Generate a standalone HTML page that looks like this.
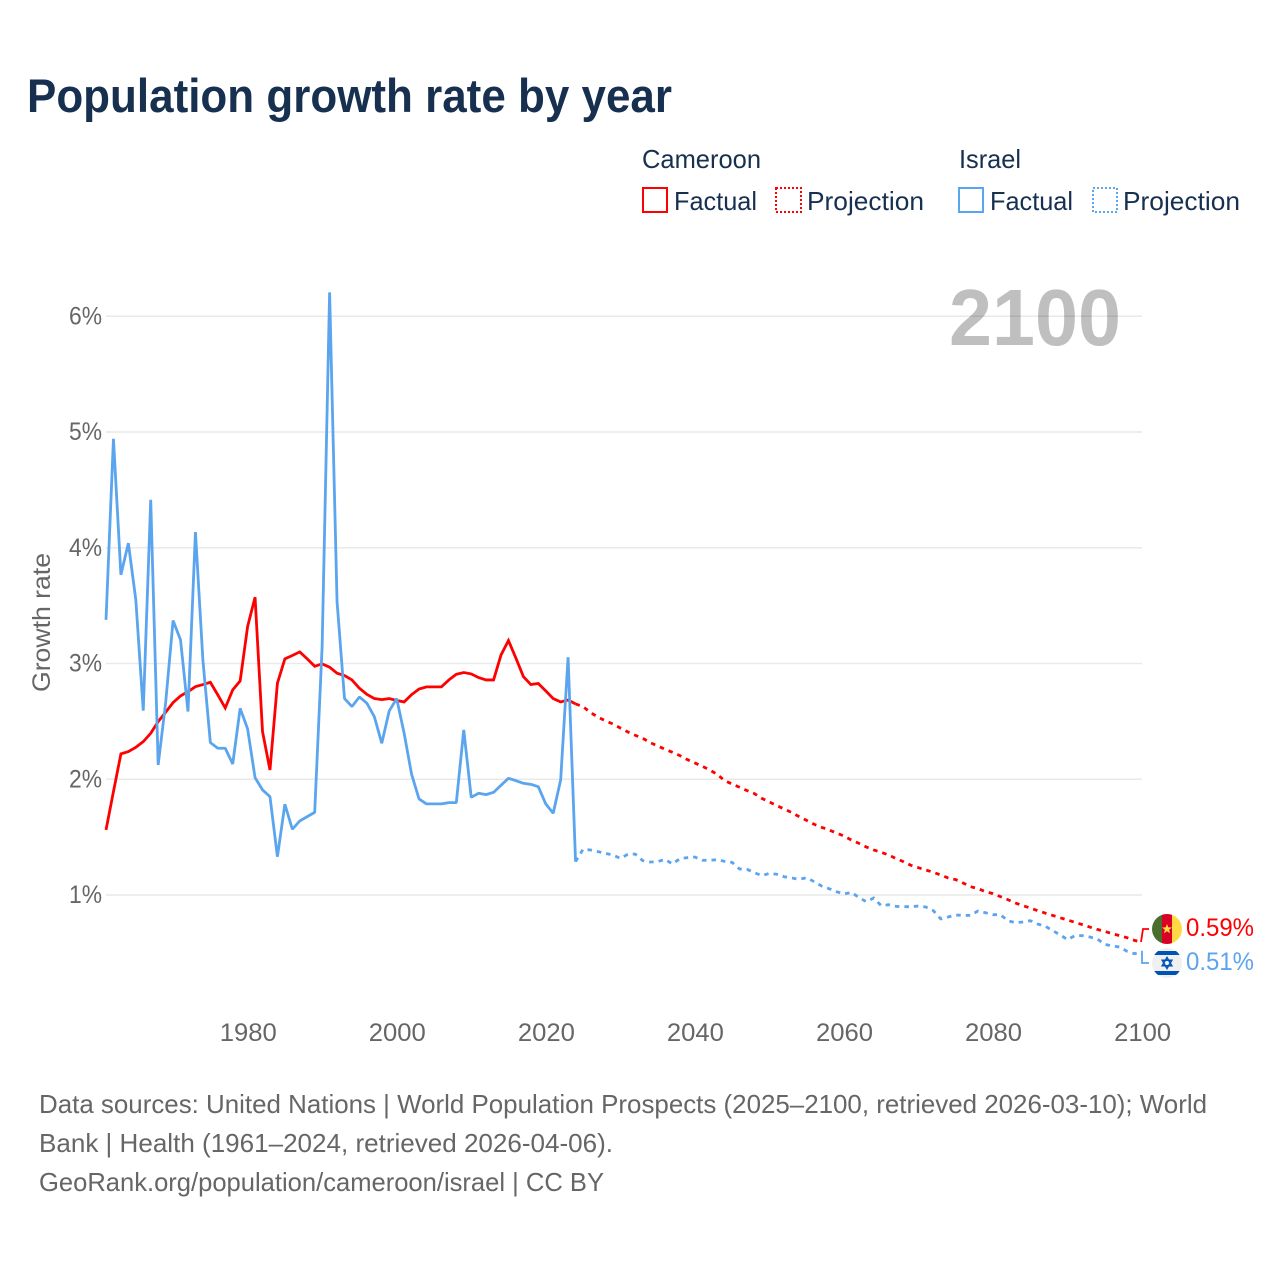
<!DOCTYPE html>
<html lang="en">
<head>
<meta charset="utf-8">
<title>Population growth rate by year</title>
<style>
html,body{margin:0;padding:0;background:#fff;}
svg{display:block;font-family:"Liberation Sans",sans-serif;}
</style>
</head>
<body>
<svg id="chart" xmlns="http://www.w3.org/2000/svg" width="1280" height="1280" viewBox="0 0 1280 1280">
  <rect width="1280" height="1280" fill="#ffffff"/>
  <text x="27" y="112" font-size="47" font-weight="700" fill="#17304f" textLength="645" lengthAdjust="spacingAndGlyphs">Population growth rate by year</text>

  <g font-size="26" fill="#17304f">
    <text x="642" y="168" textLength="119" lengthAdjust="spacingAndGlyphs">Cameroon</text>
    <text x="959" y="168" textLength="62" lengthAdjust="spacingAndGlyphs">Israel</text>
    <g>
      <rect x="643" y="188" width="24" height="24" fill="none" stroke="#ff0000" stroke-width="2"/>
      <text x="674" y="210" textLength="83" lengthAdjust="spacingAndGlyphs">Factual</text>
    </g>
    <g>
      <rect x="776" y="188" width="25" height="24" fill="none" stroke="#ff0000" stroke-width="2" stroke-dasharray="2 2"/>
      <text x="807" y="210" textLength="117" lengthAdjust="spacingAndGlyphs">Projection</text>
    </g>
    <g>
      <rect x="959" y="188" width="24" height="24" fill="none" stroke="#5ba4ee" stroke-width="2"/>
      <text x="990" y="210" textLength="83" lengthAdjust="spacingAndGlyphs">Factual</text>
    </g>
    <g>
      <rect x="1093" y="188" width="24" height="24" fill="none" stroke="#5ba4ee" stroke-width="2" stroke-dasharray="2 2"/>
      <text x="1123" y="210" textLength="117" lengthAdjust="spacingAndGlyphs">Projection</text>
    </g>
  </g>

  <g id="grid"></g>
  <g id="yticks" font-size="25" fill="#666666" text-anchor="end"></g>
  <g id="xticks" font-size="25" fill="#666666" text-anchor="middle"></g>
  <text transform="translate(50,692) rotate(-90)" font-size="25" fill="#666666" textLength="139" lengthAdjust="spacingAndGlyphs">Growth rate</text>

  <text x="949" y="345" font-size="80" font-weight="700" fill="#000000" fill-opacity="0.25" textLength="172" lengthAdjust="spacingAndGlyphs">2100</text>

  <g id="series"></g>

  <path d="M1141 942 L1143 929 L1149 929" fill="none" stroke="#ff0000" stroke-width="1.8"/>
  <path d="M1142 951 L1142 963 L1149 963" fill="none" stroke="#5ba4ee" stroke-width="1.8"/>

  <g>
    <clipPath id="clipCm"><circle cx="1167" cy="929" r="15"/></clipPath>
    <g clip-path="url(#clipCm)">
      <rect x="1152" y="914" width="10" height="30" fill="#496e2d"/>
      <rect x="1162" y="914" width="10" height="30" fill="#d80027"/>
      <rect x="1172" y="914" width="10" height="30" fill="#ffda44"/>
      <polygon points="1167,924 1168.3,927.4 1172,927.5 1169.1,929.8 1170.1,933.3 1167,931.3 1163.9,933.3 1164.9,929.8 1162,927.5 1165.7,927.4" fill="#ffda44"/>
    </g>
  </g>
  <g>
    <clipPath id="clipIl"><circle cx="1167" cy="963" r="15"/></clipPath>
    <g clip-path="url(#clipIl)">
      <rect x="1152" y="948" width="30" height="30" fill="#f0f0f0"/>
      <rect x="1152" y="951" width="30" height="4" fill="#0052b4"/>
      <rect x="1152" y="971" width="30" height="4" fill="#0052b4"/>
      <polygon points="1167,957.5 1171.8,965.7 1162.2,965.7" fill="none" stroke="#0052b4" stroke-width="1.5"/>
      <polygon points="1167,968.5 1171.8,960.3 1162.2,960.3" fill="none" stroke="#0052b4" stroke-width="1.5"/>
    </g>
  </g>
  <text x="1186" y="936" font-size="25" fill="#ff0000" textLength="68" lengthAdjust="spacingAndGlyphs">0.59%</text>
  <text x="1186" y="970" font-size="25" fill="#5ba4ee" textLength="68" lengthAdjust="spacingAndGlyphs">0.51%</text>

  <g font-size="26" fill="#666666">
    <text x="39" y="1113" textLength="1168" lengthAdjust="spacingAndGlyphs">Data sources: United Nations | World Population Prospects (2025–2100, retrieved 2026-03-10); World</text>
    <text x="39" y="1152" textLength="574" lengthAdjust="spacingAndGlyphs">Bank | Health (1961–2024, retrieved 2026-04-06).</text>
    <text x="39" y="1191" textLength="565" lengthAdjust="spacingAndGlyphs">GeoRank.org/population/cameroon/israel | CC BY</text>
  </g>
</svg>
<script>
const yTickValues = [1, 2, 3, 4, 5, 6];
const xTickYears = [1980, 2000, 2020, 2040, 2060, 2080, 2100];
const factualStartYear = 1961;
const projectionStartYear = 2024;

const cameroonFactual = [1.562,1.893,2.219,2.239,2.276,2.325,2.397,2.498,2.579,2.662,2.72,2.757,2.8,2.818,2.838,2.729,2.616,2.772,2.85,3.319,3.573,2.412,2.08,2.83,3.04,3.069,3.1,3.04,2.976,2.997,2.968,2.916,2.896,2.858,2.786,2.734,2.697,2.688,2.697,2.68,2.668,2.731,2.78,2.798,2.798,2.798,2.858,2.907,2.922,2.91,2.878,2.858,2.858,3.074,3.198,3.046,2.887,2.818,2.827,2.763,2.697,2.668,2.685,2.651];

const israelFactual = [3.377,4.941,3.766,4.04,3.55,2.593,4.414,2.124,2.66,3.371,3.204,2.585,4.135,3.03,2.317,2.268,2.268,2.132,2.613,2.435,2.014,1.908,1.85,1.331,1.784,1.568,1.64,1.677,1.714,3.15,6.206,3.535,2.697,2.628,2.711,2.657,2.541,2.311,2.59,2.697,2.397,2.043,1.83,1.787,1.787,1.787,1.798,1.798,2.426,1.844,1.879,1.867,1.887,1.948,2.008,1.988,1.965,1.956,1.936,1.787,1.706,1.994,3.054,1.288];

const cameroonProjection = [2.651,2.628,2.576,2.538,2.504,2.478,2.443,2.409,2.38,2.354,2.317,2.288,2.259,2.233,2.204,2.17,2.141,2.112,2.08,2.043,1.988,1.959,1.931,1.902,1.876,1.835,1.804,1.772,1.743,1.712,1.677,1.645,1.611,1.585,1.562,1.536,1.51,1.475,1.447,1.415,1.389,1.369,1.346,1.314,1.288,1.256,1.236,1.216,1.196,1.173,1.147,1.133,1.104,1.072,1.055,1.029,1.012,0.986,0.96,0.931,0.908,0.888,0.865,0.844,0.824,0.804,0.784,0.764,0.744,0.723,0.703,0.686,0.666,0.649,0.631,0.608,0.59];

const israelProjection = [1.288,1.395,1.389,1.375,1.36,1.346,1.317,1.351,1.354,1.297,1.285,1.288,1.308,1.268,1.314,1.323,1.328,1.3,1.3,1.305,1.291,1.282,1.225,1.222,1.193,1.167,1.187,1.179,1.158,1.147,1.135,1.15,1.115,1.078,1.055,1.029,1.009,1.023,0.98,0.942,0.974,0.908,0.916,0.902,0.899,0.899,0.905,0.896,0.865,0.793,0.81,0.827,0.824,0.824,0.862,0.847,0.83,0.83,0.778,0.761,0.767,0.778,0.749,0.732,0.692,0.657,0.614,0.649,0.649,0.637,0.62,0.574,0.559,0.551,0.513,0.493,0.51];

const NS = 'http://www.w3.org/2000/svg';
function xScale(year) { return 106 + (year - 1961) * (1142 - 106) / (2100 - 1961); }
function yScale(v) { return 895 - (v - 1) * 115.75; }
function pointsFor(values, startYear) {
  return values.map(function (v, i) {
    return xScale(startYear + i).toFixed(2) + ',' + yScale(v).toFixed(2);
  }).join(' ');
}

const gridGroup = document.getElementById('grid');
const yTickGroup = document.getElementById('yticks');
yTickValues.forEach(function (v) {
  const line = document.createElementNS(NS, 'line');
  
  
  line.setAttribute('x1', xScale(1961));
  line.setAttribute('x2', xScale(2100));
  line.setAttribute('y1', yScale(v));
  line.setAttribute('y2', yScale(v));
  line.setAttribute('stroke', '#e9e9e9');
  line.setAttribute('stroke-width', '1.6');
  gridGroup.appendChild(line);
  const label = document.createElementNS(NS, 'text');
  
  
  label.setAttribute('x', 102);
  label.setAttribute('y', yScale(v) + 8);
  label.setAttribute('textLength', '33');
  label.setAttribute('lengthAdjust', 'spacingAndGlyphs');
  label.textContent = v + '%';
  yTickGroup.appendChild(label);
});

const xTickGroup = document.getElementById('xticks');
xTickYears.forEach(function (year) {
  const label = document.createElementNS(NS, 'text');
  
  
  label.setAttribute('x', xScale(year) + 0.6);
  label.setAttribute('y', 1041);
  label.setAttribute('textLength', '57');
  label.setAttribute('lengthAdjust', 'spacingAndGlyphs');
  label.textContent = year;
  xTickGroup.appendChild(label);
});

const seriesGroup = document.getElementById('series');

const cameroonProjectionLine = document.createElementNS(NS, 'polyline');


cameroonProjectionLine.setAttribute('points', pointsFor(cameroonProjection, projectionStartYear));
cameroonProjectionLine.setAttribute('fill', 'none');
cameroonProjectionLine.setAttribute('stroke', '#ff0000');
cameroonProjectionLine.setAttribute('stroke-width', '2.8');
cameroonProjectionLine.setAttribute('stroke-dasharray', '4.5 5');
seriesGroup.appendChild(cameroonProjectionLine);

const israelProjectionLine = document.createElementNS(NS, 'polyline');


israelProjectionLine.setAttribute('points', pointsFor(israelProjection, projectionStartYear));
israelProjectionLine.setAttribute('fill', 'none');
israelProjectionLine.setAttribute('stroke', '#5ba4ee');
israelProjectionLine.setAttribute('stroke-width', '2.8');
israelProjectionLine.setAttribute('stroke-dasharray', '4.5 5');
seriesGroup.appendChild(israelProjectionLine);

const cameroonFactualLine = document.createElementNS(NS, 'polyline');


cameroonFactualLine.setAttribute('points', pointsFor(cameroonFactual, factualStartYear));
cameroonFactualLine.setAttribute('fill', 'none');
cameroonFactualLine.setAttribute('stroke', '#ff0000');
cameroonFactualLine.setAttribute('stroke-width', '2.8');
cameroonFactualLine.setAttribute('stroke-linejoin', 'miter');
seriesGroup.appendChild(cameroonFactualLine);

const israelFactualLine = document.createElementNS(NS, 'polyline');


israelFactualLine.setAttribute('points', pointsFor(israelFactual, factualStartYear));
israelFactualLine.setAttribute('fill', 'none');
israelFactualLine.setAttribute('stroke', '#5ba4ee');
israelFactualLine.setAttribute('stroke-width', '2.8');
israelFactualLine.setAttribute('stroke-linejoin', 'bevel');
seriesGroup.appendChild(israelFactualLine);
</script>
</body>
</html>
